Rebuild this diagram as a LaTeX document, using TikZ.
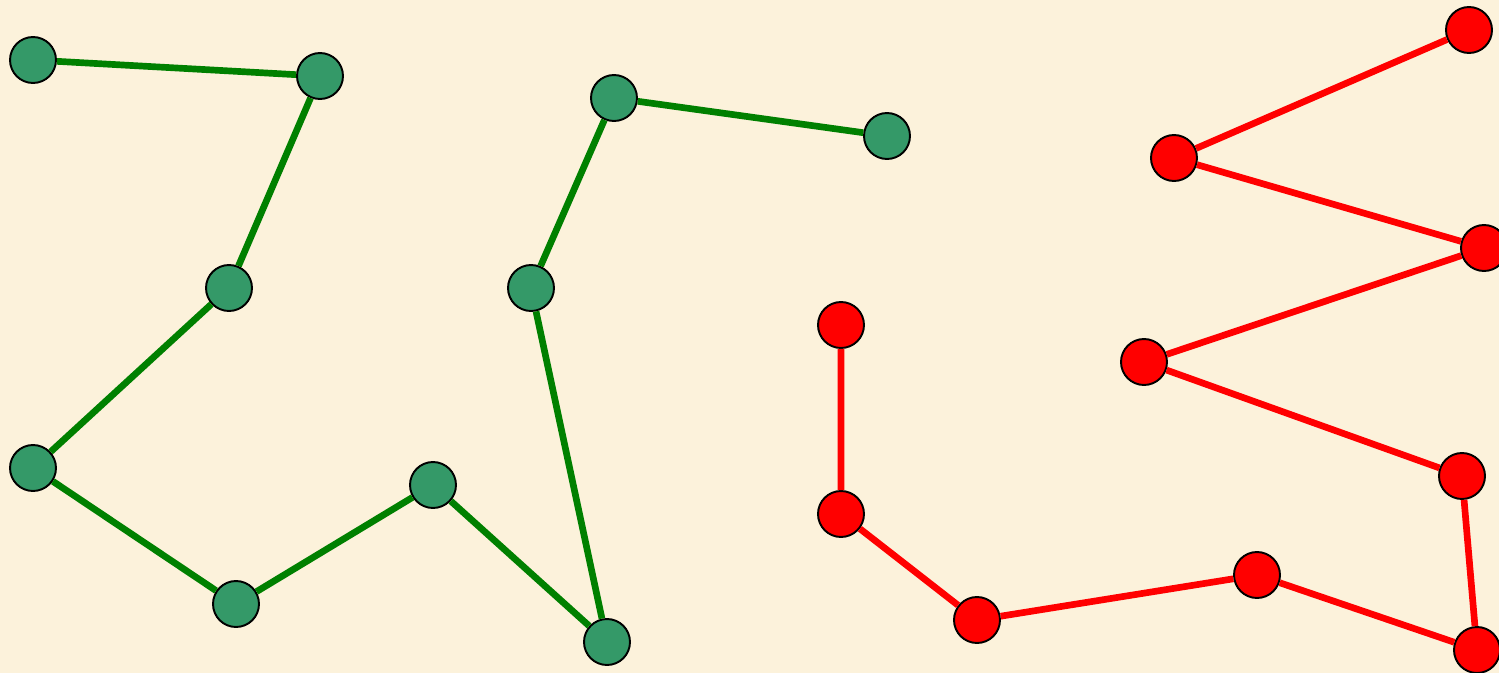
\documentclass[tikz,border=0pt]{standalone}
\usepackage{tikz}
\usetikzlibrary{backgrounds}
\definecolor{cPaper}{RGB}{252,242,219}
\definecolor{cLeaf}{RGB}{52,153,104}
\definecolor{cStem}{RGB}{0,128,0}
\definecolor{cHot}{RGB}{255,0,0}

\begin{document}
\begin{tikzpicture}[
  x=0.02cm, y=-0.02cm,
  dot/.style={circle, draw=black, line width=1.1pt, minimum size=0.92cm, inner sep=0pt},
  gdot/.style={dot, fill=cLeaf},
  rdot/.style={dot, fill=cHot},
  gline/.style={line width=3.8pt, draw=cStem},
  rline/.style={line width=3.8pt, draw=cHot},
]
\fill[cPaper] (0,0) rectangle (1499,673);
\clip (0,0) rectangle (1499,673);
% green chain
\node[gdot] (g1) at (33,60) {};
\node[gdot] (g2) at (320,76) {};
\node[gdot] (g3) at (229,288) {};
\node[gdot] (g4) at (33,468) {};
\node[gdot] (g5) at (236,604) {};
\node[gdot] (g6) at (433,485) {};
\node[gdot] (g7) at (607,642) {};
\node[gdot] (g8) at (531,288) {};
\node[gdot] (g9) at (614,98) {};
\node[gdot] (g10) at (887,136) {};
% red chain
\node[rdot] (r1) at (841,325) {};
\node[rdot] (r2) at (841,514) {};
\node[rdot] (r3) at (977,620) {};
\node[rdot] (r4) at (1257,575) {};
\node[rdot] (r5) at (1477,650) {};
\node[rdot] (r6) at (1462,476) {};
\node[rdot] (r7) at (1144,362) {};
\node[rdot] (r8) at (1484,248) {};
\node[rdot] (r9) at (1174,158) {};
\node[rdot] (r10) at (1469,30) {};
\draw[gline] (g1) -- (g2) -- (g3) -- (g4) -- (g5) -- (g6) -- (g7) -- (g8) -- (g9) -- (g10);
\draw[rline] (r1) -- (r2) -- (r3) -- (r4) -- (r5) -- (r6) -- (r7) -- (r8) -- (r9) -- (r10);
\end{tikzpicture}
\end{document}
